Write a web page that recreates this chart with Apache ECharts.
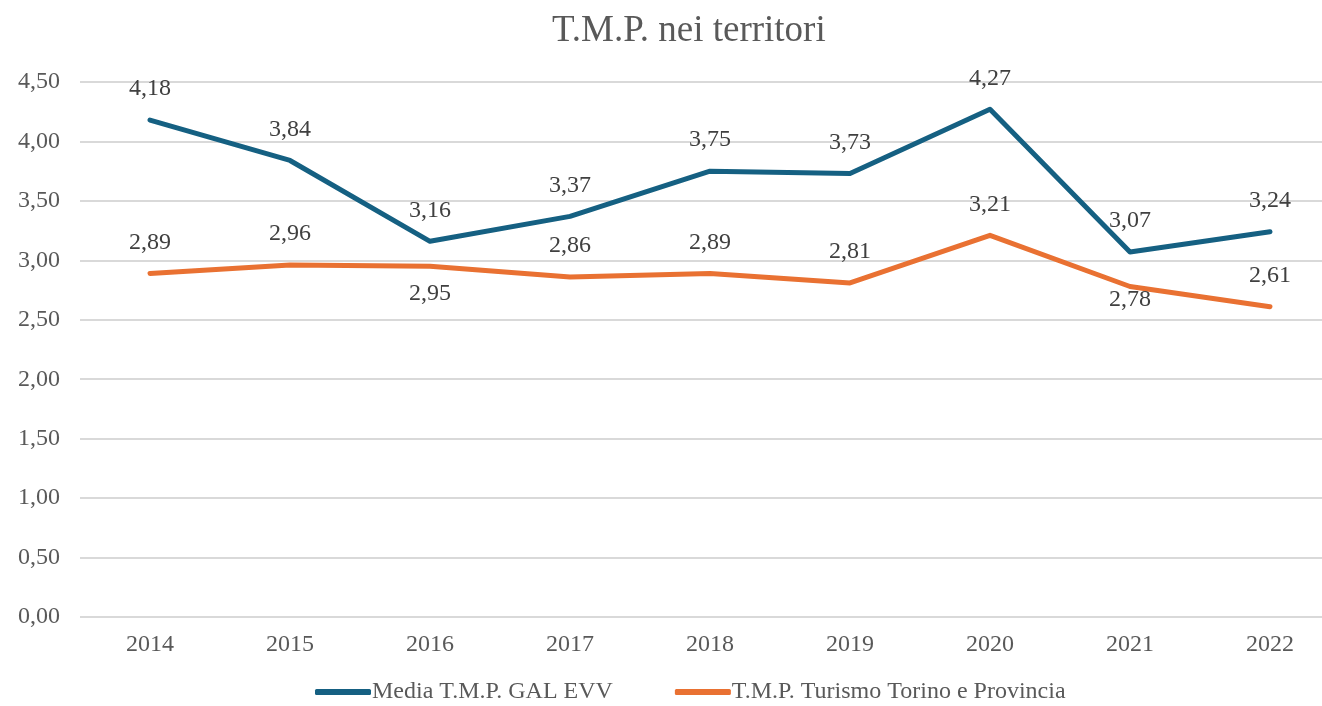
<!DOCTYPE html>
<html lang="it">
<head>
<meta charset="utf-8">
<title>T.M.P. nei territori</title>
<script src="https://cdn.jsdelivr.net/npm/echarts@6/dist/echarts.min.js"></script>
<style>
html,body{margin:0;padding:0;background:#fff;}
#chart{width:1322px;height:706px;}
</style>
</head>
<body>
<div id="chart"></div>
<script>
var anni = ['2014','2015','2016','2017','2018','2019','2020','2021','2022'];
var galEvv = [4.18, 3.84, 3.16, 3.37, 3.75, 3.73, 4.27, 3.07, 3.24];
var torino = [2.89, 2.96, 2.95, 2.86, 2.89, 2.81, 3.21, 2.78, 2.61];
// orange labels that sit below the line
var torinoSotto = ['2016', '2021'];

var serif = '"Liberation Serif", "Times New Roman", serif';
var grigio = '#595959';
function virgola(v){
	return v.toFixed(2).replace('.', ',');
}

var chart = echarts.init(document.getElementById('chart'));

var etichetta = {
	show: true, position: 'top', distance: 18,
	fontFamily: serif, fontSize: 24, color: '#404040',
	formatter: function(p){ return virgola(p.value); }
};

chart.setOption({
	animation: false,
	textStyle: {fontFamily: serif},
	title: {
		text: 'T.M.P. nei territori',
		left: 547,
		top: 8,
		textStyle: {fontFamily: serif, fontSize: 37, fontWeight: 'normal', color: grigio}
	},
	legend: {
		bottom: -3,
		left: 310,
		icon: 'roundRect',
		itemWidth: 56,
		itemHeight: 6,
		itemGap: 62,
		textStyle: {fontFamily: serif, fontSize: 24, color: grigio, padding: [0, 0, 0, -4]},
		data: ['Media T.M.P. GAL EVV', 'T.M.P. Turismo Torino e Provincia']
	},
	// grid 0 only carries the horizontal gridlines and y labels,
	// grid 1 places the categories like the original
	grid: [
		{left: 80, right: 0, top: 82, bottom: 89},
		{left: 150, right: 52, top: 82, bottom: 89}
	],
	xAxis: [
		{type: 'category', gridIndex: 0, data: anni, show: false},
		{
			type: 'category',
			gridIndex: 1,
			data: anni,
			boundaryGap: false,
			axisLine: {show: false},
			axisTick: {show: false},
			axisLabel: {fontFamily: serif, fontSize: 24, color: grigio, margin: 16}
		}
	],
	yAxis: [
		{
			type: 'value',
			gridIndex: 0,
			min: 0,
			max: 4.5,
			interval: 0.5,
			axisLine: {show: false},
			axisTick: {show: false},
			splitLine: {lineStyle: {color: '#d9d9d9', width: 2}},
			axisLabel: {
				fontFamily: serif, fontSize: 24, color: grigio, margin: 20,
				formatter: function(v){ return virgola(v); }
			}
		},
		{type: 'value', gridIndex: 1, min: 0, max: 4.5, interval: 0.5, show: false}
	],
	series: [
		{
			name: 'Media T.M.P. GAL EVV',
			type: 'line',
			xAxisIndex: 1,
			yAxisIndex: 1,
			data: galEvv,
			symbol: 'circle',
			symbolSize: 2,
			showSymbol: true,
			color: '#156082',
			itemStyle: {color: '#156082'},
			lineStyle: {width: 5, color: '#156082', cap: 'round', join: 'round'},
			label: etichetta
		},
		{
			name: 'T.M.P. Turismo Torino e Provincia',
			type: 'line',
			xAxisIndex: 1,
			yAxisIndex: 1,
			data: torino.map(function(v, i){
				if (torinoSotto.indexOf(anni[i]) < 0) return v;
				return {value: v, label: {position: 'bottom', distance: anni[i] === '2021' ? 0 : 14}};
			}),
			symbol: 'circle',
			symbolSize: 2,
			showSymbol: true,
			color: '#e97132',
			itemStyle: {color: '#e97132'},
			lineStyle: {width: 5, color: '#e97132', cap: 'round', join: 'round'},
			label: etichetta
		}
	]
});
</script>
</body>
</html>
